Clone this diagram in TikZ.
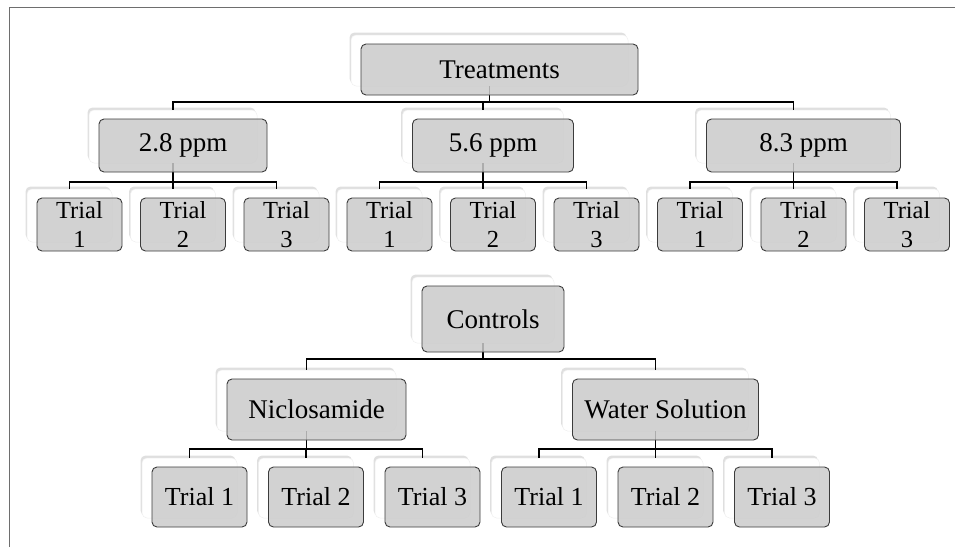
\documentclass[tikz,border=0pt]{standalone}
\usepackage{fontspec}
\setmainfont{Liberation Serif}
\usetikzlibrary{shadows,calc}

\definecolor{boxgray}{RGB}{203,203,203}
\definecolor{rimgray}{RGB}{60,60,60}
\definecolor{framegray}{RGB}{110,110,110}

\tikzset{
  card/.style 2 args={draw=black!6,line width=0.5pt,fill=white,
    rounded corners=5pt,minimum width=#1,minimum height=#2,inner sep=0pt,
    drop shadow={shadow xshift=-1.5pt,shadow yshift=2.5pt,opacity=0.25}},
  tag/.style 2 args={draw=rimgray,line width=0.9pt,fill=boxgray,
    fill opacity=0.85,text opacity=1,draw opacity=1,rounded corners=5pt,
    minimum width=#1,minimum height=#2,inner sep=0pt,align=center,
    font=\fontsize{27}{30}\selectfont},
  link/.style={line width=1.9pt,black},
  frame/.style={line width=1pt,framegray}
}

\begin{document}
\begin{tikzpicture}[x=1pt,y=-1pt]
\useasboundingbox (0,0) rectangle (955,547);
\draw[frame] (9,547) -- (9,7) -- (955,7);

% white cards behind the boxes
\node[card={277pt}{51pt}] (treat) at (489.5,60.5) {};
\node[card={168pt}{53pt}] (p28) at (173,136.5) {};
\node[card={161pt}{53pt}] (p56) at (483,136.5) {};
\node[card={194pt}{53pt}] (p83) at (793.5,136.5) {};
\foreach \g/\c in {p28/173,p56/483,p83/793.5}
  \foreach \k/\d in {1/-103.5,2/0,3/103.5}
    \node[card={85pt}{53pt}] (\g-t\k) at (\c+\d,215.5) {};

\node[card={142pt}{66pt}] (ctrl) at (483,310) {};
\node[card={179pt}{61pt}] (niclo) at (306.5,400.5) {};
\node[card={186pt}{61pt}] (water) at (655.5,400.5) {};
\foreach \g/\c in {niclo/306,water/655.5}
  \foreach \k/\d in {1/-116.5,2/0,3/116.5}
    \node[card={95pt}{60pt}] (\g-t\k) at (\c+\d,488) {};

% connectors
\foreach \g in {p28,p56,p83}
  \draw[link] (treat.south) |- ([yshift=8pt]\g.north) -- (\g.north);
\foreach \g in {p28,p56,p83}
  \foreach \k in {1,2,3}
    \draw[link] (\g.south) |- ([yshift=7pt]\g-t\k.north) -- (\g-t\k.north);
\foreach \g in {niclo,water}
  \draw[link] (ctrl.south) |- ([yshift=11pt]\g.north) -- (\g.north);
\foreach \g in {niclo,water}
  \foreach \k in {1,2,3}
    \draw[link] (\g.south) |- ([yshift=9pt]\g-t\k.north) -- (\g-t\k.north);

% grey boxes with the labels
\node[tag={277pt}{51pt}] (treat-b) at ($(treat)+(10,9)$) {Treatments};
\node[tag={168pt}{53pt}] (p28-b) at ($(p28)+(10,9)$) {2.8 ppm};
\node[tag={161pt}{53pt}] (p56-b) at ($(p56)+(10,9)$) {5.6 ppm};
\node[tag={194pt}{53pt}] (p83-b) at ($(p83)+(10,9)$) {8.3 ppm};
\foreach \g in {p28,p56,p83}
  \foreach \k in {1,2,3}
    \node[tag={85pt}{53pt},font=\fontsize{24.5}{29}\selectfont]
      (\g-t\k-b) at ($(\g-t\k)+(10,9)$) {Trial\\\k};

\node[tag={142pt}{66pt}] (ctrl-b) at ($(ctrl)+(10,9)$) {Controls};
\node[tag={179pt}{61pt}] (niclo-b) at ($(niclo)+(10,9)$) {Niclosamide};
\node[tag={186pt}{61pt}] (water-b) at ($(water)+(10,9)$) {Water Solution};
\foreach \g in {niclo,water}
  \foreach \k in {1,2,3}
    \node[tag={95pt}{60pt},font=\fontsize{26}{29}\selectfont]
      (\g-t\k-b) at ($(\g-t\k)+(10,9)$) {Trial \k};
\end{tikzpicture}
\end{document}
